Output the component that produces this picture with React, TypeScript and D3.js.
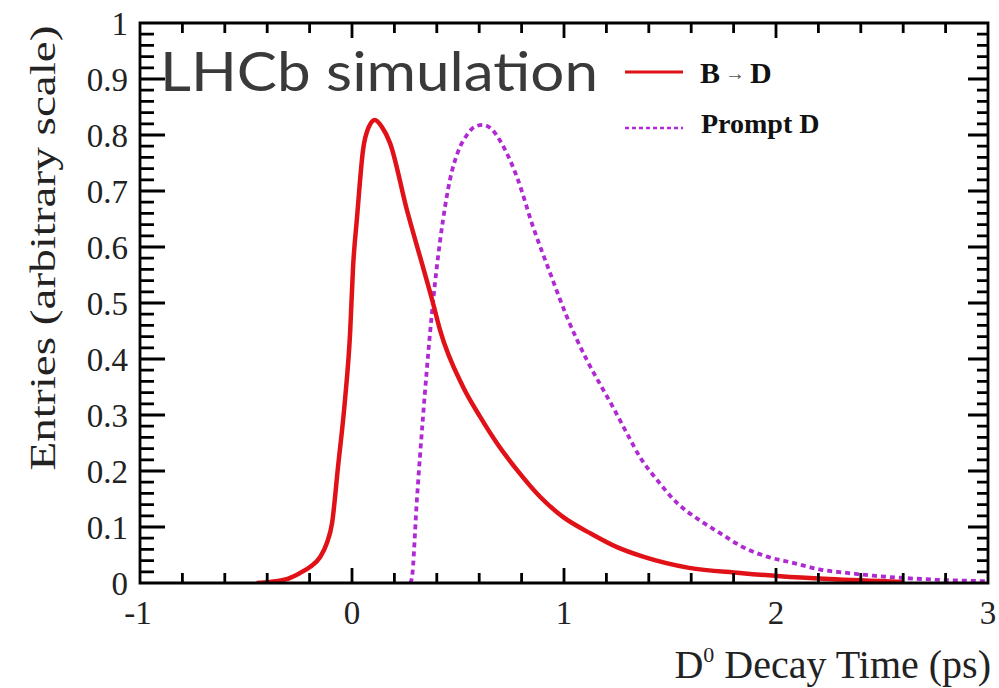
import React from "react";
import * as d3 from "d3";

const bdTime = [-0.45, -0.387, -0.3, -0.245, -0.2, -0.151, -0.119, -0.094, -0.066, -0.033, -0.009, 0.005, 0.024, 0.052, 0.08, 0.108, 0.14, 0.179, 0.259, 0.335, 0.382, 0.415, 0.524, 0.604, 0.683, 0.778, 0.887, 0.995, 1.123, 1.25, 1.373, 1.59, 1.83, 2.02, 2.25, 2.6];
const bdEntries = [0, 0.002, 0.008, 0.018, 0.028, 0.046, 0.071, 0.107, 0.207, 0.327, 0.446, 0.564, 0.654, 0.773, 0.815, 0.827, 0.815, 0.786, 0.666, 0.564, 0.5, 0.452, 0.35, 0.297, 0.25, 0.202, 0.154, 0.118, 0.089, 0.064, 0.047, 0.027, 0.018, 0.012, 0.007, 0.002];

const promptTime = [0.275, 0.283, 0.306, 0.335, 0.368, 0.4, 0.43, 0.462, 0.5, 0.542, 0.58, 0.618, 0.66, 0.698, 0.778, 0.854, 0.934, 1.014, 1.108, 1.17, 1.231, 1.3, 1.358, 1.439, 1.533, 1.64, 1.736, 1.844, 1.958, 2.08, 2.208, 2.335, 2.46, 2.6, 2.75, 2.9, 3.0];
const promptEntries = [0, 0.01, 0.148, 0.297, 0.446, 0.564, 0.65, 0.72, 0.77, 0.8, 0.815, 0.818, 0.81, 0.79, 0.725, 0.636, 0.554, 0.475, 0.398, 0.355, 0.314, 0.265, 0.225, 0.184, 0.143, 0.112, 0.089, 0.064, 0.047, 0.036, 0.024, 0.018, 0.013, 0.009, 0.006, 0.004, 0.003];

const xMajorTicks = [-1, 0, 1, 2, 3];
const yMajorTicks = [0, 0.1, 0.2, 0.3, 0.4, 0.5, 0.6, 0.7, 0.8, 0.9, 1];
const yTickLabels = ["0", "0.1", "0.2", "0.3", "0.4", "0.5", "0.6", "0.7", "0.8", "0.9", "1"];
const xTickLabels = ["-1", "0", "1", "2", "3"];
const legendLabels = ["B", "Prompt D"];

const W = 999, H = 688;
const PL = 140, PR = 988, PT = 23, PB = 583;
const RED = "#e01218";
const PURPLE = "#b02ad4";
const SERIF = "'Liberation Serif', 'DejaVu Serif', serif";

export default function App() {
  const x = d3.scaleLinear().domain([-1, 3]).range([PL, PR]);
  const y = d3.scaleLinear().domain([0, 1]).range([PB, PT]);
  const line = d3.line<[number, number]>().x(d => x(d[0])).y(d => y(d[1])).curve(d3.curveMonotoneX);
  const redPath = line(bdTime.map((t, i) => [t, bdEntries[i]]) as [number, number][]) || "";
  const purplePath = line(promptTime.map((t, i) => [t, promptEntries[i]]) as [number, number][]) || "";

  const isMajor = (arr: number[], v: number) => arr.some(m => Math.abs(m - v) < 1e-6);
  const xAll = d3.range(0, 21).map(i => -1 + i * 0.2);
  const yAll = d3.range(0, 51).map(i => i * 0.02);

  const p = d3.path();
  p.rect(PL, PT, PR - PL, PB - PT);
  xAll.forEach(v => {
    const len = isMajor(xMajorTicks, v) ? 15 : 10;
    const px = x(v);
    p.moveTo(px, PB); p.lineTo(px, PB - len);
    p.moveTo(px, PT); p.lineTo(px, PT + len);
  });
  yAll.forEach(v => {
    const maj = isMajor(yMajorTicks, v);
    const py = y(v);
    p.moveTo(PL, py); p.lineTo(PL + (maj ? 25 : 14), py);
    p.moveTo(PR, py); p.lineTo(PR - (maj ? 20 : 11), py);
  });
  const frameD = p.toString();

  return (
    <svg width={W} height={H} style={{ position: "absolute", left: 0, top: 0, background: "#fff" }}>
      <defs>
        <clipPath id="plotclip">
          <rect x={PL} y={PT - 5} width={PR - PL} height={PB - PT + 5} />
        </clipPath>
      </defs>
      <g clipPath="url(#plotclip)">
        <path d={purplePath} fill="none" stroke={PURPLE} strokeWidth={3.8} strokeDasharray="5 4" />
        <path d={redPath} fill="none" stroke={RED} strokeWidth={4.5} strokeLinejoin="round" />
      </g>
      <path d={frameD} fill="none" stroke="#000" strokeWidth={2.8} />
      {yMajorTicks.map((v, i) => (
        <text key={"yl" + i} x={128} y={y(v)} dy="0.35em" textAnchor="end" fontFamily={SERIF} fontSize={33} fill="#222">
          {yTickLabels[i]}
        </text>
      ))}
      {xMajorTicks.map((v, i) => (
        <text key={"xl" + i} x={x(v) - (v === -1 ? 2 : 0)} y={624} textAnchor="middle" fontFamily={SERIF} fontSize={33} fill="#222">
          {xTickLabels[i]}
        </text>
      ))}
      <text transform="translate(55,248) rotate(-90)" textAnchor="middle" fontFamily={SERIF} fontSize={35} fill="#222" textLength={445} lengthAdjust="spacingAndGlyphs">
        Entries (arbitrary scale)
      </text>
      <text x={991} y={678} textAnchor="end" fontFamily={SERIF} fontSize={40} fill="#222">
        D<tspan dy={-16} fontSize={22}>0</tspan><tspan dy={16}> Decay Time (ps)</tspan>
      </text>
      <text x={160} y={91} fontFamily="Lato, 'Open Sans', sans-serif" fontSize={54} fill="#3a3a3a" textLength={438} lengthAdjust="spacingAndGlyphs">
        LHCb simulation
      </text>
      <line x1={625} x2={683} y1={72} y2={72} stroke={RED} strokeWidth={3} />
      <text x={700} y={83} fontFamily={SERIF} fontSize={30} fontWeight="bold" fill="#111">
        {legendLabels[0]}
        <tspan fontWeight="normal" fontSize={20} dy={-3} fill="#555"> {"\u2192"} </tspan>
        <tspan dy={3}>D</tspan>
      </text>
      <line x1={625} x2={683} y1={128} y2={128} stroke={PURPLE} strokeWidth={2.5} strokeDasharray="4 3" />
      <text x={701} y={133} fontFamily={SERIF} fontSize={28} fontWeight="bold" fill="#111">
        {legendLabels[1]}
      </text>
    </svg>
  );
}
